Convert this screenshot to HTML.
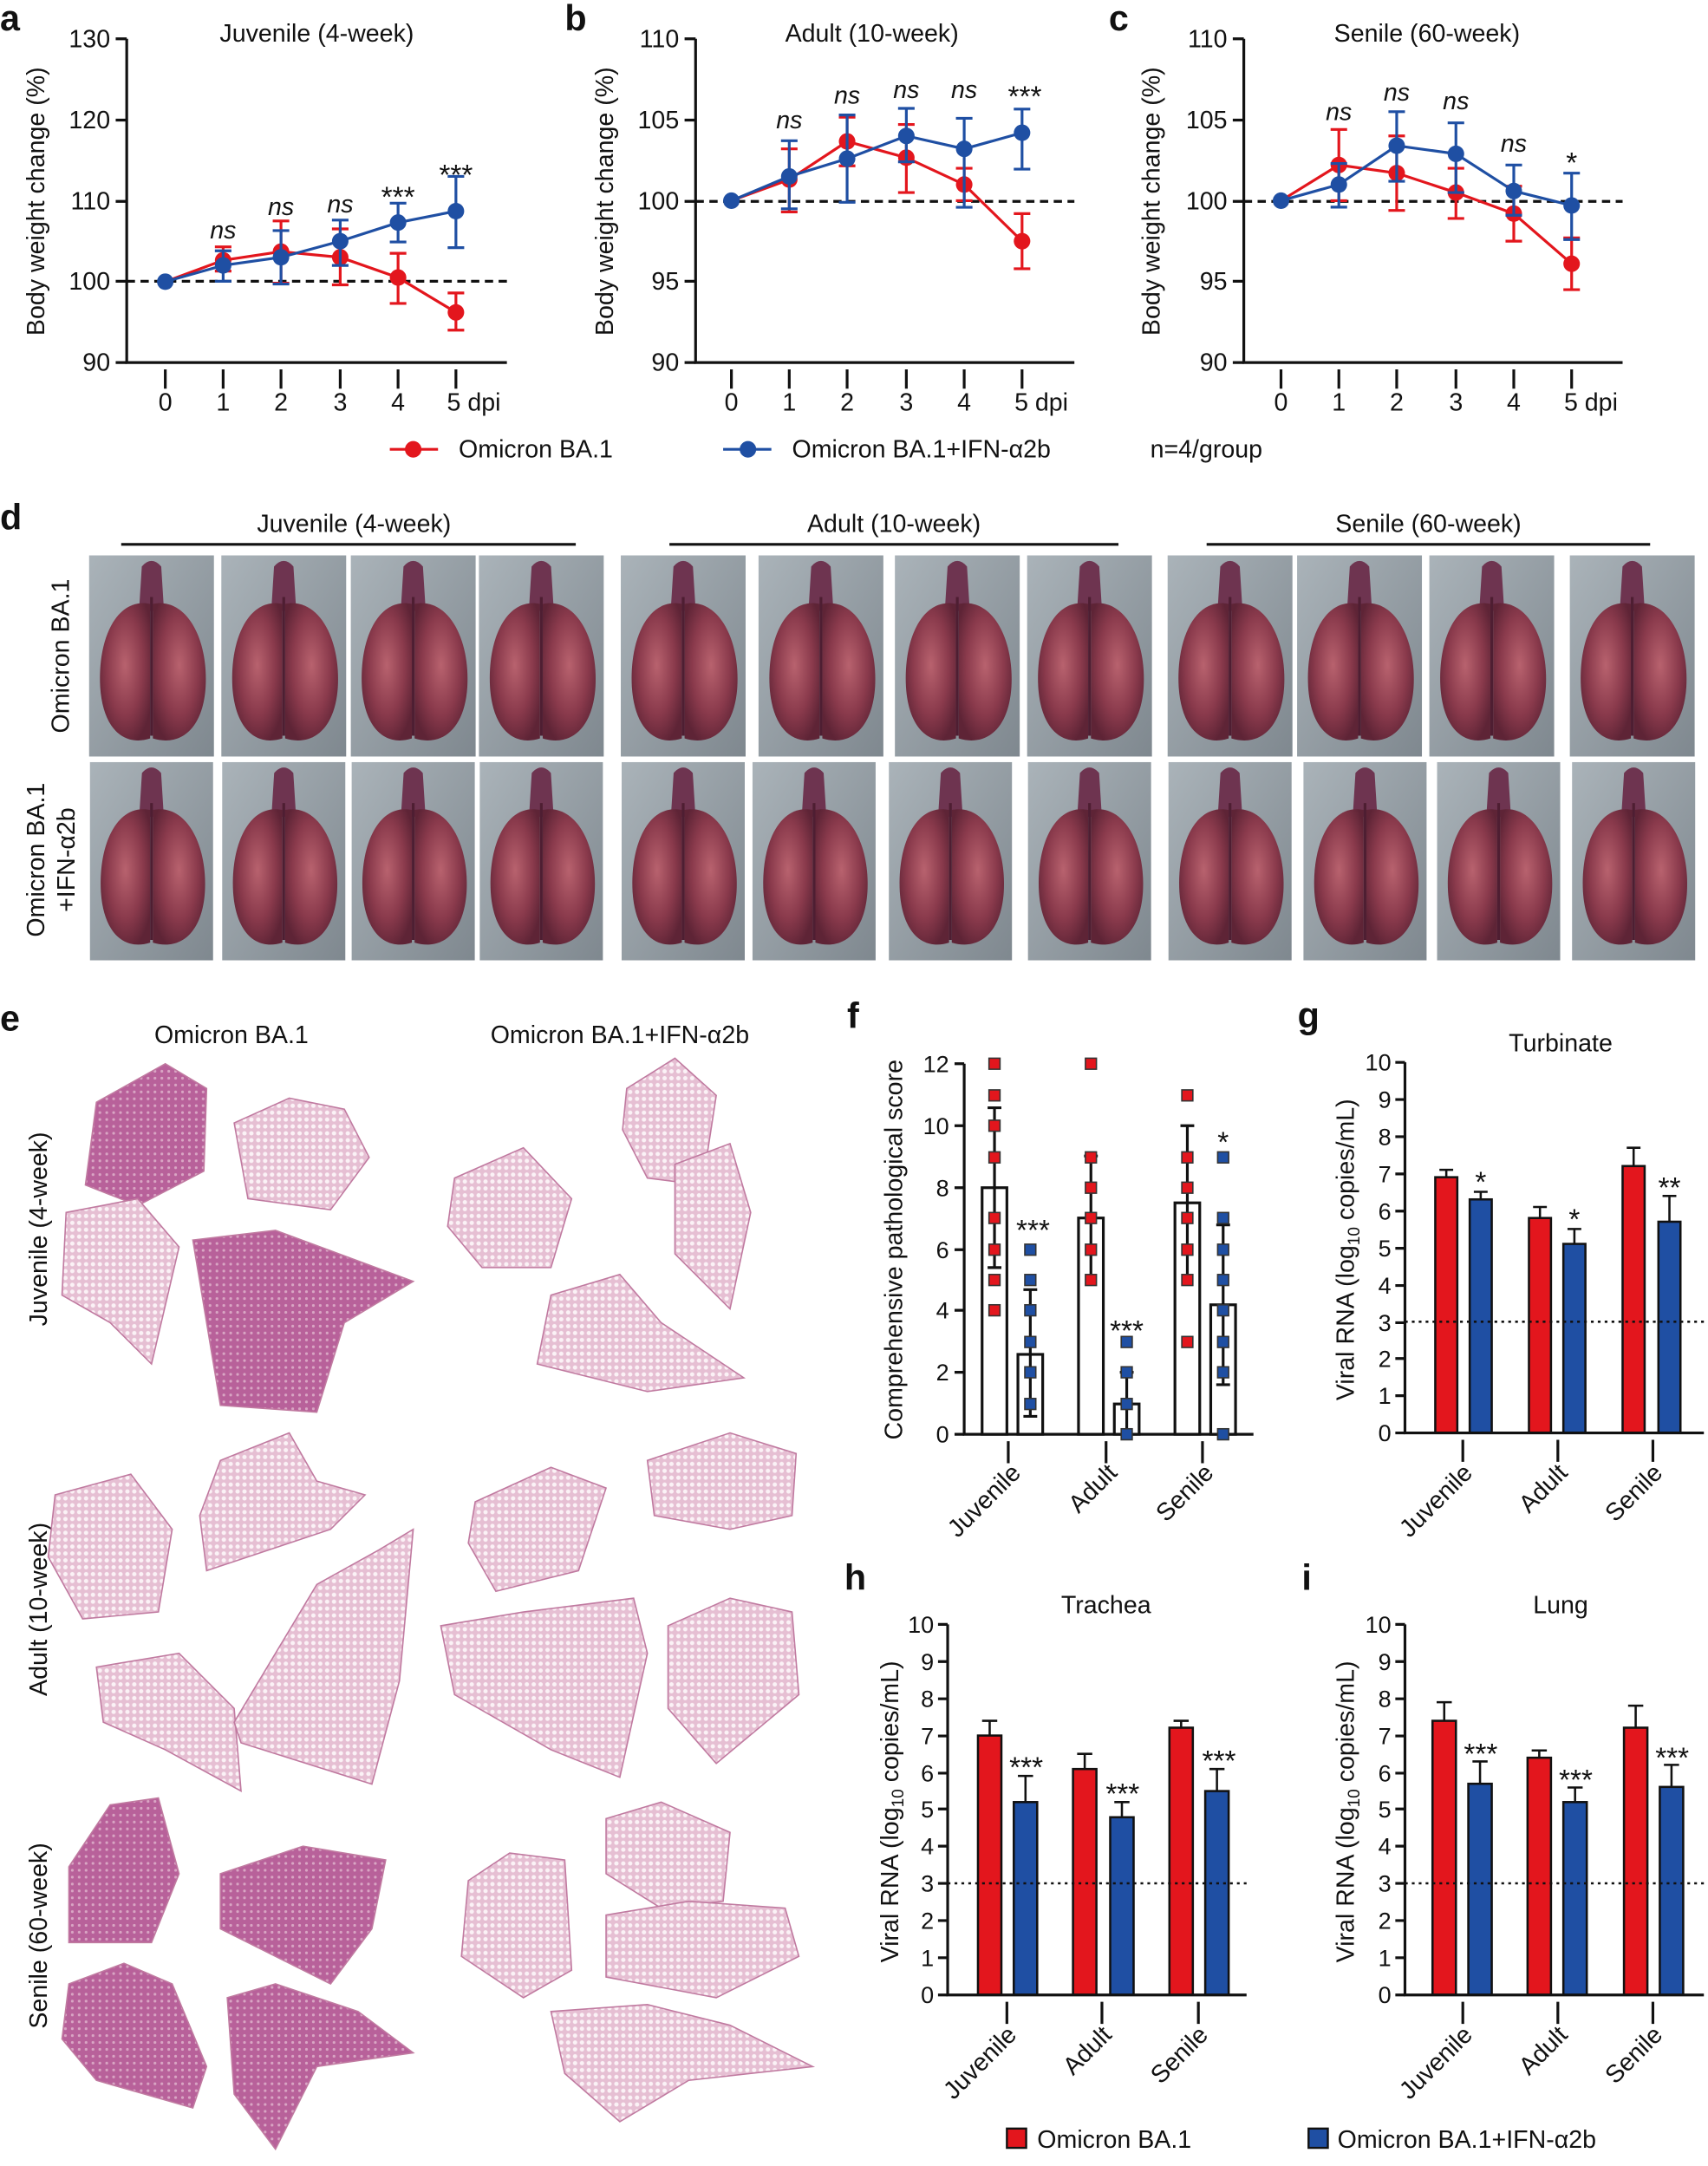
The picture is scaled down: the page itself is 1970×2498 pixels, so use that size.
<!DOCTYPE html>
<html><head><meta charset="utf-8"><style>
html,body{margin:0;padding:0;background:#fff}
svg{display:block}
text{font-family:"Liberation Sans",Arial,sans-serif;fill:#111}
.t{font-size:17px}.ti{font-size:18px}.L{font-size:26px;font-weight:bold}
.ns{font-size:18px;font-style:italic}
.st{font-size:21px}
</style></head><body>
<svg width="1970" height="2498" viewBox="0 0 1240 1572" xmlns="http://www.w3.org/2000/svg">
<defs>
<linearGradient id="bg" x1="0" y1="0" x2="1" y2="1"><stop offset="0" stop-color="#aab3b9"/><stop offset="1" stop-color="#7f888f"/></linearGradient>
<radialGradient id="lg" cx="0.5" cy="0.45" r="0.6"><stop offset="0" stop-color="#b8626e"/><stop offset="0.6" stop-color="#8a3a4c"/><stop offset="1" stop-color="#5e2436"/></radialGradient>
<symbol id="lung" viewBox="0 0 90 145"><rect x="0" y="0" width="90" height="145" fill="url(#bg)"/><path d="M38 8 Q45 0 52 8 L54 40 L36 40 Z" fill="#6e3450"/><path d="M44 35 C20 30 6 60 8 95 C10 125 25 138 44 132 Z" fill="url(#lg)"/><path d="M46 35 C70 30 86 60 84 95 C82 125 66 138 46 132 Z" fill="url(#lg)"/><path d="M45 30 L45 130" stroke="#4e1e32" stroke-width="2"/></symbol>
<pattern id="hp" width="5" height="5" patternUnits="userSpaceOnUse"><rect width="5" height="5" fill="#e6bfd3"/><circle cx="2.5" cy="2.5" r="1.6" fill="#fbf2f6"/></pattern>
<pattern id="hd" width="5" height="5" patternUnits="userSpaceOnUse"><rect width="5" height="5" fill="#b8619a"/><circle cx="2.5" cy="2.5" r="1" fill="#d9a6c4"/></pattern>
</defs>

<!-- ========== Panel a ========== -->
<text class="L" x="0" y="22">a</text>
<text class="ti" x="230" y="30" text-anchor="middle">Juvenile (4-week)</text>
<g stroke="#111" stroke-width="2" fill="none">
<path d="M92 28 V263 H368"/>
<path d="M84 28H92M84 87H92M84 146H92M84 204H92M84 263H92"/>
<path d="M120 268V282M162 268V282M204 268V282M247 268V282M289 268V282M331 268V282"/>
</g>
<g class="ti" text-anchor="end"><text x="80" y="34">130</text><text x="80" y="93">120</text><text x="80" y="152">110</text><text x="80" y="210">100</text><text x="80" y="269">90</text></g>
<g class="ti" text-anchor="middle"><text x="120" y="298">0</text><text x="162" y="298">1</text><text x="204" y="298">2</text><text x="247" y="298">3</text><text x="289" y="298">4</text><text x="344" y="298">5 dpi</text></g>
<text class="ti" transform="translate(32 146) rotate(-90)" text-anchor="middle">Body weight change (%)</text>
<path d="M92 204H368" stroke="#111" stroke-width="2" stroke-dasharray="6 4"/>
<g stroke="#e3161d" stroke-width="2" fill="none">
<path d="M120 204.3L162 188.8L204 182.5L247 186.6L289 201.3L331 226.6"/>
<path d="M162 196.6V179M156 196.6H168M156 179H168M204 205.4V160.2M198 160.2H210M198 205.4H210M247 206.6V166M241 166H253M241 206.6H253M289 220.1V183.7M283 183.7H295M283 220.1H295M331 239.5V212.5M325 212.5H337M325 239.5H337"/>
</g>
<g fill="#e3161d"><circle cx="162" cy="188.8" r="6"/><circle cx="204" cy="182.5" r="6"/><circle cx="247" cy="186.6" r="6"/><circle cx="289" cy="201.3" r="6"/><circle cx="331" cy="226.6" r="6"/></g>
<g stroke="#1f4fa3" stroke-width="2" fill="none">
<path d="M120 204.3L162 192.5L204 186.6L247 174.9L289 161.4L331 153.1"/>
<path d="M162 204V181.9M156 181.9H168M156 204H168M204 206V167.2M198 167.2H210M198 206H210M247 192.5V159.6M241 159.6H253M241 192.5H253M289 175.5V147.3M283 147.3H295M283 175.5H295M331 179.6V127.9M325 127.9H337M325 179.6H337"/>
</g>
<g fill="#1f4fa3"><circle cx="120" cy="204.3" r="6"/><circle cx="162" cy="192.5" r="6"/><circle cx="204" cy="186.6" r="6"/><circle cx="247" cy="174.9" r="6"/><circle cx="289" cy="161.4" r="6"/><circle cx="331" cy="153.1" r="6"/></g>
<g class="ns" text-anchor="middle"><text x="162" y="173">ns</text><text x="204" y="156">ns</text><text x="247" y="154">ns</text></g>
<g class="st" text-anchor="middle"><text x="289" y="150">***</text><text x="331" y="134">***</text></g>

<!-- ========== Panel b ========== -->
<text class="L" x="410" y="22">b</text>
<text class="ti" x="633" y="30" text-anchor="middle">Adult (10-week)</text>
<g stroke="#111" stroke-width="2" fill="none">
<path d="M505 28 V263 H780"/>
<path d="M497 28H505M497 87H505M497 146H505M497 204H505M497 263H505"/>
<path d="M531 268V282M573 268V282M615 268V282M658 268V282M700 268V282M742 268V282"/>
</g>
<g class="ti" text-anchor="end"><text x="493" y="34">110</text><text x="493" y="93">105</text><text x="493" y="152">100</text><text x="493" y="210">95</text><text x="493" y="269">90</text></g>
<g class="ti" text-anchor="middle"><text x="531" y="298">0</text><text x="573" y="298">1</text><text x="615" y="298">2</text><text x="658" y="298">3</text><text x="700" y="298">4</text><text x="756" y="298">5 dpi</text></g>
<text class="ti" transform="translate(445 146) rotate(-90)" text-anchor="middle">Body weight change (%)</text>
<path d="M505 146H780" stroke="#111" stroke-width="2" stroke-dasharray="6 4"/>
<g stroke="#e3161d" stroke-width="2" fill="none">
<path d="M531 145.5L573 130.2L615 102.5L658 114.3L700 133.8L742 174.9"/>
<path d="M573 153.7V107.9M567 107.9H579M567 153.7H579M615 120.2V84.9M609 84.9H621M609 120.2H621M658 139.6V90.2M652 90.2H664M652 139.6H664M700 145.5V122M694 122H706M694 145.5H706M742 194.9V154.9M736 154.9H748M736 194.9H748"/>
</g>
<g fill="#e3161d"><circle cx="573" cy="130.2" r="6"/><circle cx="615" cy="102.5" r="6"/><circle cx="658" cy="114.3" r="6"/><circle cx="700" cy="133.8" r="6"/><circle cx="742" cy="174.9" r="6"/></g>
<g stroke="#1f4fa3" stroke-width="2" fill="none">
<path d="M531 145.5L573 127.9L615 115L658 98.5L700 107.9L742 96.2"/>
<path d="M573 151.4V102M567 102H579M567 151.4H579M615 146.7V83.3M609 83.3H621M609 146.7H621M658 117.3V78.5M652 78.5H664M652 117.3H664M700 150.3V85.7M694 85.7H706M694 150.3H706M742 122.6V79M736 79H748M736 122.6H748"/>
</g>
<g fill="#1f4fa3"><circle cx="531" cy="145.5" r="6"/><circle cx="573" cy="127.9" r="6"/><circle cx="615" cy="115" r="6"/><circle cx="658" cy="98.5" r="6"/><circle cx="700" cy="107.9" r="6"/><circle cx="742" cy="96.2" r="6"/></g>
<g class="ns" text-anchor="middle"><text x="573" y="93">ns</text><text x="615" y="75">ns</text><text x="658" y="71">ns</text><text x="700" y="71">ns</text></g>
<text class="st" x="744" y="77" text-anchor="middle">***</text>

<!-- ========== Panel c ========== -->
<text class="L" x="805" y="22">c</text>
<text class="ti" x="1036" y="30" text-anchor="middle">Senile (60-week)</text>
<g stroke="#111" stroke-width="2" fill="none">
<path d="M903 28 V263 H1178"/>
<path d="M895 28H903M895 87H903M895 146H903M895 204H903M895 263H903"/>
<path d="M930 268V282M972 268V282M1014 268V282M1057 268V282M1099 268V282M1141 268V282"/>
</g>
<g class="ti" text-anchor="end"><text x="891" y="34">110</text><text x="891" y="93">105</text><text x="891" y="152">100</text><text x="891" y="210">95</text><text x="891" y="269">90</text></g>
<g class="ti" text-anchor="middle"><text x="930" y="298">0</text><text x="972" y="298">1</text><text x="1014" y="298">2</text><text x="1057" y="298">3</text><text x="1099" y="298">4</text><text x="1155" y="298">5 dpi</text></g>
<text class="ti" transform="translate(842 146) rotate(-90)" text-anchor="middle">Body weight change (%)</text>
<path d="M903 146H1178" stroke="#111" stroke-width="2" stroke-dasharray="6 4"/>
<g stroke="#e3161d" stroke-width="2" fill="none">
<path d="M930 145.5L972 119.6L1014 125.5L1057 139.6L1099 154.9L1141 191.3"/>
<path d="M972 145.5V93.8M966 93.8H978M966 145.5H978M1014 152.6V98.5M1008 98.5H1020M1008 152.6H1020M1057 158.4V122M1051 122H1063M1051 158.4H1063M1099 174.9V135M1093 135H1105M1093 174.9H1105M1141 210.1V172.5M1135 172.5H1147M1135 210.1H1147"/>
</g>
<g fill="#e3161d"><circle cx="972" cy="119.6" r="6"/><circle cx="1014" cy="125.5" r="6"/><circle cx="1057" cy="139.6" r="6"/><circle cx="1099" cy="154.9" r="6"/><circle cx="1141" cy="191.3" r="6"/></g>
<g stroke="#1f4fa3" stroke-width="2" fill="none">
<path d="M930 145.5L972 133.8L1014 105.6L1057 111.5L1099 138.5L1141 149"/>
<path d="M972 150.2V118.5M966 118.5H978M966 150.2H978M1014 131.4V80.9M1008 80.9H1020M1008 131.4H1020M1057 139.6V89M1051 89H1063M1051 139.6H1063M1099 156.1V119.6M1093 119.6H1105M1093 156.1H1105M1141 173.7V125.5M1135 125.5H1147M1135 173.7H1147"/>
</g>
<g fill="#1f4fa3"><circle cx="930" cy="145.5" r="6"/><circle cx="972" cy="133.8" r="6"/><circle cx="1014" cy="105.6" r="6"/><circle cx="1057" cy="111.5" r="6"/><circle cx="1099" cy="138.5" r="6"/><circle cx="1141" cy="149" r="6"/></g>
<g class="ns" text-anchor="middle"><text x="972" y="87">ns</text><text x="1014" y="73">ns</text><text x="1057" y="79">ns</text><text x="1099" y="110">ns</text></g>
<text class="st" x="1141" y="125" text-anchor="middle">*</text>

<!-- legend -->
<path d="M283 326H318" stroke="#e3161d" stroke-width="2"/><circle cx="300" cy="326" r="6" fill="#e3161d"/>
<text class="ti" x="333" y="332">Omicron BA.1</text>
<path d="M525 326H560" stroke="#1f4fa3" stroke-width="2"/><circle cx="543" cy="326" r="6" fill="#1f4fa3"/>
<text class="ti" x="575" y="332">Omicron BA.1+IFN-α2b</text>
<text class="ti" x="835" y="332">n=4/group</text>

<!-- ========== Panel d ========== -->
<text class="L" x="0" y="384">d</text>
<g class="ti" text-anchor="middle"><text x="257" y="386">Juvenile (4-week)</text><text x="649" y="386">Adult (10-week)</text><text x="1037" y="386">Senile (60-week)</text></g>
<path d="M88 395H418M486 395H812M876 395H1198" stroke="#111" stroke-width="2"/>
<text class="ti" transform="translate(50 476) rotate(-90)" text-anchor="middle">Omicron BA.1</text>
<text class="ti" transform="translate(32 624) rotate(-90)" text-anchor="middle">Omicron BA.1</text>
<text class="ti" transform="translate(54 624) rotate(-90)" text-anchor="middle">+IFN-α2b</text>
<g>
<use href="#lung" x="62" y="403" width="96" height="146" preserveAspectRatio="none"/>
<use href="#lung" x="158" y="403" width="96" height="146" preserveAspectRatio="none"/>
<use href="#lung" x="254" y="403" width="92" height="146" preserveAspectRatio="none"/>
<use href="#lung" x="346" y="403" width="94" height="146" preserveAspectRatio="none"/>
<use href="#lung" x="448" y="403" width="96" height="146" preserveAspectRatio="none"/>
<use href="#lung" x="544" y="403" width="104" height="146" preserveAspectRatio="none"/>
<use href="#lung" x="648" y="403" width="94" height="146" preserveAspectRatio="none"/>
<use href="#lung" x="742" y="403" width="98" height="146" preserveAspectRatio="none"/>
<use href="#lung" x="845" y="403" width="96" height="146" preserveAspectRatio="none"/>
<use href="#lung" x="941" y="403" width="92" height="146" preserveAspectRatio="none"/>
<use href="#lung" x="1033" y="403" width="100" height="146" preserveAspectRatio="none"/>
<use href="#lung" x="1133" y="403" width="104" height="146" preserveAspectRatio="none"/>
<use href="#lung" x="62" y="553" width="96" height="144" preserveAspectRatio="none"/>
<use href="#lung" x="158" y="553" width="96" height="144" preserveAspectRatio="none"/>
<use href="#lung" x="254" y="553" width="92" height="144" preserveAspectRatio="none"/>
<use href="#lung" x="346" y="553" width="94" height="144" preserveAspectRatio="none"/>
<use href="#lung" x="448" y="553" width="96" height="144" preserveAspectRatio="none"/>
<use href="#lung" x="544" y="553" width="94" height="144" preserveAspectRatio="none"/>
<use href="#lung" x="638" y="553" width="104" height="144" preserveAspectRatio="none"/>
<use href="#lung" x="742" y="553" width="98" height="144" preserveAspectRatio="none"/>
<use href="#lung" x="845" y="553" width="96" height="144" preserveAspectRatio="none"/>
<use href="#lung" x="941" y="553" width="100" height="144" preserveAspectRatio="none"/>
<use href="#lung" x="1041" y="553" width="94" height="144" preserveAspectRatio="none"/>
<use href="#lung" x="1135" y="553" width="102" height="144" preserveAspectRatio="none"/>
</g>

<!-- ========== Panel e ========== -->
<text class="L" x="0" y="748">e</text>
<g class="ti" text-anchor="middle"><text x="168" y="757">Omicron BA.1</text><text x="450" y="757">Omicron BA.1+IFN-α2b</text></g>
<g class="ti" text-anchor="middle">
<text transform="translate(34 892) rotate(-90)">Juvenile (4-week)</text>
<text transform="translate(34 1168) rotate(-90)">Adult (10-week)</text>
<text transform="translate(34 1405) rotate(-90)">Senile (60-week)</text>
</g>
<g stroke="#c07aa0" stroke-width="1">
<path d="M70 800 L120 772 L150 790 L148 850 L100 875 L62 860 Z" fill="url(#hd)"/>
<path d="M170 815 L210 797 L250 805 L268 840 L240 878 L180 870 Z" fill="url(#hp)"/>
<path d="M48 880 L100 870 L130 905 L110 990 L80 960 L45 940 Z" fill="url(#hp)"/>
<path d="M140 900 L200 893 L300 930 L250 960 L230 1025 L160 1020 L150 960 Z" fill="url(#hd)"/>
<path d="M455 790 L490 768 L520 795 L510 860 L470 855 L452 820 Z" fill="url(#hp)"/>
<path d="M330 855 L380 833 L415 870 L400 920 L350 920 L325 890 Z" fill="url(#hp)"/>
<path d="M490 845 L530 830 L545 880 L530 950 L490 910 Z" fill="url(#hp)"/>
<path d="M400 940 L450 925 L480 960 L540 1000 L470 1010 L390 990 Z" fill="url(#hp)"/>
<path d="M40 1085 L95 1070 L125 1110 L115 1170 L60 1175 L35 1130 Z" fill="url(#hp)"/>
<path d="M160 1060 L210 1040 L230 1075 L265 1085 L240 1110 L150 1140 L145 1100 Z" fill="url(#hp)"/>
<path d="M70 1210 L130 1200 L170 1240 L175 1300 L120 1270 L75 1250 Z" fill="url(#hp)"/>
<path d="M170 1250 L230 1150 L275 1125 L300 1110 L290 1220 L270 1295 L175 1265 Z" fill="url(#hp)"/>
<path d="M345 1090 L400 1065 L440 1080 L420 1140 L360 1155 L340 1120 Z" fill="url(#hp)"/>
<path d="M470 1060 L530 1040 L578 1055 L575 1100 L530 1110 L475 1100 Z" fill="url(#hp)"/>
<path d="M320 1180 L380 1170 L460 1160 L470 1200 L450 1290 L400 1270 L330 1230 Z" fill="url(#hp)"/>
<path d="M485 1180 L530 1160 L575 1170 L580 1230 L520 1280 L485 1240 Z" fill="url(#hp)"/>
<path d="M50 1355 L80 1310 L115 1305 L130 1360 L110 1410 L50 1410 Z" fill="url(#hd)"/>
<path d="M160 1360 L220 1340 L280 1350 L270 1400 L240 1440 L160 1400 Z" fill="url(#hd)"/>
<path d="M50 1440 L90 1425 L125 1440 L150 1500 L140 1530 L70 1510 L45 1480 Z" fill="url(#hd)"/>
<path d="M165 1450 L200 1440 L260 1460 L300 1490 L230 1500 L200 1560 L170 1520 Z" fill="url(#hd)"/>
<path d="M440 1320 L480 1308 L530 1330 L525 1380 L480 1385 L440 1360 Z" fill="url(#hp)"/>
<path d="M340 1365 L370 1345 L410 1350 L415 1430 L380 1450 L335 1420 Z" fill="url(#hp)"/>
<path d="M440 1390 L500 1380 L570 1385 L580 1420 L520 1450 L440 1435 Z" fill="url(#hp)"/>
<path d="M400 1460 L470 1455 L530 1470 L590 1500 L500 1510 L450 1540 L410 1505 Z" fill="url(#hp)"/>
</g>

<!-- ========== Panel f ========== -->
<text class="L" x="615" y="746">f</text>
<text class="ti" transform="translate(655 907) rotate(-90)" text-anchor="middle">Comprehensive pathological score</text>
<g stroke="#111" stroke-width="2" fill="none">
<path d="M700 772 V1041 H910"/>
<path d="M693 772H700M693 817H700M693 862H700M693 907H700M693 951H700M693 996H700M693 1041H700"/>
<path d="M732 1046V1062M803 1046V1062M873 1046V1062"/>
<rect x="713" y="862" width="18" height="179"/><rect x="739" y="983" width="18" height="58"/>
<rect x="783" y="884" width="18" height="157"/><rect x="809" y="1019" width="18" height="22"/>
<rect x="853" y="873" width="18" height="168"/><rect x="879" y="947" width="18" height="94"/>
<path d="M722 920V804M717 804H727M717 920H727M748 1028V936M743 936H753M743 1028H753M792 929V839M787 839H797M818 1041V996M813 996H823M862 929V817M857 817H867M888 1005V889M883 889H893M883 1005H893"/>
</g>
<g fill="#e3161d" stroke="#333" stroke-width="1">
<rect x="718" y="768" width="8" height="8"/><rect x="718" y="791" width="8" height="8"/><rect x="718" y="813" width="8" height="8"/><rect x="718" y="836" width="8" height="8"/><rect x="718" y="880" width="8" height="8"/><rect x="718" y="903" width="8" height="8"/><rect x="718" y="925" width="8" height="8"/><rect x="718" y="947" width="8" height="8"/>
<rect x="788" y="768" width="8" height="8"/><rect x="788" y="836" width="8" height="8"/><rect x="788" y="858" width="8" height="8"/><rect x="788" y="880" width="8" height="8"/><rect x="788" y="903" width="8" height="8"/><rect x="788" y="925" width="8" height="8"/>
<rect x="858" y="791" width="8" height="8"/><rect x="858" y="836" width="8" height="8"/><rect x="858" y="858" width="8" height="8"/><rect x="858" y="880" width="8" height="8"/><rect x="858" y="903" width="8" height="8"/><rect x="858" y="925" width="8" height="8"/><rect x="858" y="970" width="8" height="8"/>
</g>
<g fill="#1f4fa3" stroke="#333" stroke-width="1">
<rect x="744" y="903" width="8" height="8"/><rect x="744" y="925" width="8" height="8"/><rect x="744" y="947" width="8" height="8"/><rect x="744" y="970" width="8" height="8"/><rect x="744" y="992" width="8" height="8"/><rect x="744" y="1015" width="8" height="8"/>
<rect x="814" y="970" width="8" height="8"/><rect x="814" y="992" width="8" height="8"/><rect x="814" y="1015" width="8" height="8"/><rect x="814" y="1037" width="8" height="8"/>
<rect x="884" y="836" width="8" height="8"/><rect x="884" y="880" width="8" height="8"/><rect x="884" y="903" width="8" height="8"/><rect x="884" y="925" width="8" height="8"/><rect x="884" y="947" width="8" height="8"/><rect x="884" y="970" width="8" height="8"/><rect x="884" y="992" width="8" height="8"/><rect x="884" y="1037" width="8" height="8"/>
</g>
<g class="t" text-anchor="end"><text x="689" y="778">12</text><text x="689" y="823">10</text><text x="689" y="868">8</text><text x="689" y="913">6</text><text x="689" y="957">4</text><text x="689" y="1002">2</text><text x="689" y="1047">0</text></g>
<g class="st" text-anchor="middle"><text x="750" y="900">***</text><text x="818" y="973">***</text><text x="888" y="836">*</text></g>
<g class="ti" text-anchor="end"><text transform="translate(742 1070) rotate(-45)">Juvenile</text><text transform="translate(812 1070) rotate(-45)">Adult</text><text transform="translate(882 1070) rotate(-45)">Senile</text></g>

<!-- ========== Panel g ========== -->
<text class="L" x="942" y="746">g</text>
<text class="ti" x="1133" y="763" text-anchor="middle">Turbinate</text>
<text class="ti" transform="translate(983 907) rotate(-90)" text-anchor="middle">Viral RNA (log<tspan font-size="12" dy="4">10</tspan><tspan dy="-4"> copies/mL)</tspan></text>
<g stroke="#111" stroke-width="1.6">
<rect x="1042" y="854.4" width="16" height="185.6" fill="#e3161d"/><rect x="1067" y="870.5" width="16" height="169.5" fill="#1f4fa3"/>
<rect x="1110" y="884" width="16" height="156" fill="#e3161d"/><rect x="1135" y="902.8" width="16" height="137.2" fill="#1f4fa3"/>
<rect x="1178" y="846.3" width="16" height="193.7" fill="#e3161d"/><rect x="1204" y="886.7" width="16" height="153.3" fill="#1f4fa3"/>
<path fill="none" d="M1050 854V849M1045 849H1055M1075 870V865M1070 865H1080M1118 884V876M1113 876H1123M1143 903V892M1138 892H1148M1186 846V833M1181 833H1191M1212 887V868M1207 868H1217"/>
</g>
<g stroke="#111" stroke-width="2" fill="none">
<path d="M1020 771 V1040 H1237"/>
<path d="M1013 771H1020M1013 798H1020M1013 825H1020M1013 852H1020M1013 879H1020M1013 906H1020M1013 933H1020M1013 960H1020M1013 986H1020M1013 1013H1020M1013 1040H1020"/>
<path d="M1062 1045V1061M1131 1045V1061M1200 1045V1061"/>
</g>
<path d="M1020 959.3H1237" stroke="#111" stroke-width="1.6" stroke-dasharray="2 3"/>
<g class="t" text-anchor="end"><text x="1010" y="777">10</text><text x="1010" y="804">9</text><text x="1010" y="831">8</text><text x="1010" y="858">7</text><text x="1010" y="885">6</text><text x="1010" y="912">5</text><text x="1010" y="939">4</text><text x="1010" y="966">3</text><text x="1010" y="992">2</text><text x="1010" y="1019">1</text><text x="1010" y="1046">0</text></g>
<g class="st" text-anchor="middle"><text x="1075" y="865">*</text><text x="1143" y="892">*</text><text x="1212" y="869">**</text></g>
<g class="ti" text-anchor="end"><text transform="translate(1070 1070) rotate(-45)">Juvenile</text><text transform="translate(1139 1070) rotate(-45)">Adult</text><text transform="translate(1208 1070) rotate(-45)">Senile</text></g>

<!-- ========== Panel h ========== -->
<text class="L" x="613" y="1154">h</text>
<text class="ti" x="803" y="1171" text-anchor="middle">Trachea</text>
<text class="ti" transform="translate(652 1315) rotate(-90)" text-anchor="middle">Viral RNA (log<tspan font-size="12" dy="4">10</tspan><tspan dy="-4"> copies/mL)</tspan></text>
<g stroke="#111" stroke-width="1.6">
<rect x="710" y="1259.7" width="17" height="188.3" fill="#e3161d"/><rect x="736" y="1308" width="17" height="140" fill="#1f4fa3"/>
<rect x="779" y="1284" width="17" height="164" fill="#e3161d"/><rect x="806" y="1319" width="17" height="129" fill="#1f4fa3"/>
<rect x="849" y="1254" width="17" height="194" fill="#e3161d"/><rect x="875" y="1300" width="17" height="148" fill="#1f4fa3"/>
<path fill="none" d="M718.5 1260V1249M713 1249H724M744.5 1308V1289M739 1289H750M787.5 1284V1273M782 1273H793M814.5 1319V1308M809 1308H820M857.5 1254V1249M852 1249H863M883.5 1300V1284M878 1284H889"/>
</g>
<g stroke="#111" stroke-width="2" fill="none">
<path d="M688 1179 V1448 H905"/>
<path d="M681 1179H688M681 1206H688M681 1233H688M681 1260H688M681 1287H688M681 1313H688M681 1340H688M681 1367H688M681 1394H688M681 1421H688M681 1448H688"/>
<path d="M731 1453V1469M800 1453V1469M870 1453V1469"/>
</g>
<path d="M688 1367H905" stroke="#111" stroke-width="1.6" stroke-dasharray="2 3"/>
<g class="t" text-anchor="end"><text x="678" y="1185">10</text><text x="678" y="1212">9</text><text x="678" y="1239">8</text><text x="678" y="1266">7</text><text x="678" y="1293">6</text><text x="678" y="1319">5</text><text x="678" y="1346">4</text><text x="678" y="1373">3</text><text x="678" y="1400">2</text><text x="678" y="1427">1</text><text x="678" y="1454">0</text></g>
<g class="st" text-anchor="middle"><text x="745" y="1290">***</text><text x="815" y="1309">***</text><text x="885" y="1285">***</text></g>
<g class="ti" text-anchor="end"><text transform="translate(739 1478) rotate(-45)">Juvenile</text><text transform="translate(808 1478) rotate(-45)">Adult</text><text transform="translate(878 1478) rotate(-45)">Senile</text></g>

<!-- ========== Panel i ========== -->
<text class="L" x="945" y="1154">i</text>
<text class="ti" x="1133" y="1171" text-anchor="middle">Lung</text>
<text class="ti" transform="translate(983 1315) rotate(-90)" text-anchor="middle">Viral RNA (log<tspan font-size="12" dy="4">10</tspan><tspan dy="-4"> copies/mL)</tspan></text>
<g stroke="#111" stroke-width="1.6">
<rect x="1040" y="1249" width="17" height="199" fill="#e3161d"/><rect x="1066" y="1294.7" width="17" height="153.3" fill="#1f4fa3"/>
<rect x="1109" y="1275.8" width="17" height="172.2" fill="#e3161d"/><rect x="1135" y="1308" width="17" height="140" fill="#1f4fa3"/>
<rect x="1179" y="1254" width="17" height="194" fill="#e3161d"/><rect x="1205" y="1297" width="17" height="151" fill="#1f4fa3"/>
<path fill="none" d="M1048.5 1249V1235.5M1043 1235.5H1054M1074.5 1295V1278.5M1069 1278.5H1080M1117.5 1276V1270.5M1112 1270.5H1123M1143.5 1308V1297.4M1138 1297.4H1149M1187.5 1254V1238M1182 1238H1193M1213.5 1297V1281M1208 1281H1219"/>
</g>
<g stroke="#111" stroke-width="2" fill="none">
<path d="M1020 1179 V1448 H1237"/>
<path d="M1013 1179H1020M1013 1206H1020M1013 1233H1020M1013 1260H1020M1013 1287H1020M1013 1313H1020M1013 1340H1020M1013 1367H1020M1013 1394H1020M1013 1421H1020M1013 1448H1020"/>
<path d="M1062 1453V1469M1131 1453V1469M1200 1453V1469"/>
</g>
<path d="M1020 1367H1237" stroke="#111" stroke-width="1.6" stroke-dasharray="2 3"/>
<g class="t" text-anchor="end"><text x="1010" y="1185">10</text><text x="1010" y="1212">9</text><text x="1010" y="1239">8</text><text x="1010" y="1266">7</text><text x="1010" y="1293">6</text><text x="1010" y="1319">5</text><text x="1010" y="1346">4</text><text x="1010" y="1373">3</text><text x="1010" y="1400">2</text><text x="1010" y="1427">1</text><text x="1010" y="1454">0</text></g>
<g class="st" text-anchor="middle"><text x="1075" y="1280">***</text><text x="1144" y="1299">***</text><text x="1214" y="1283">***</text></g>
<g class="ti" text-anchor="end"><text transform="translate(1070 1478) rotate(-45)">Juvenile</text><text transform="translate(1139 1478) rotate(-45)">Adult</text><text transform="translate(1208 1478) rotate(-45)">Senile</text></g>

<!-- bottom legend -->
<rect x="731" y="1545" width="14" height="14" fill="#e3161d" stroke="#111" stroke-width="1.5"/>
<text class="ti" x="753" y="1559">Omicron BA.1</text>
<rect x="950" y="1545" width="14" height="14" fill="#1f4fa3" stroke="#111" stroke-width="1.5"/>
<text class="ti" x="971" y="1559">Omicron BA.1+IFN-α2b</text>
</svg>
</body></html>
